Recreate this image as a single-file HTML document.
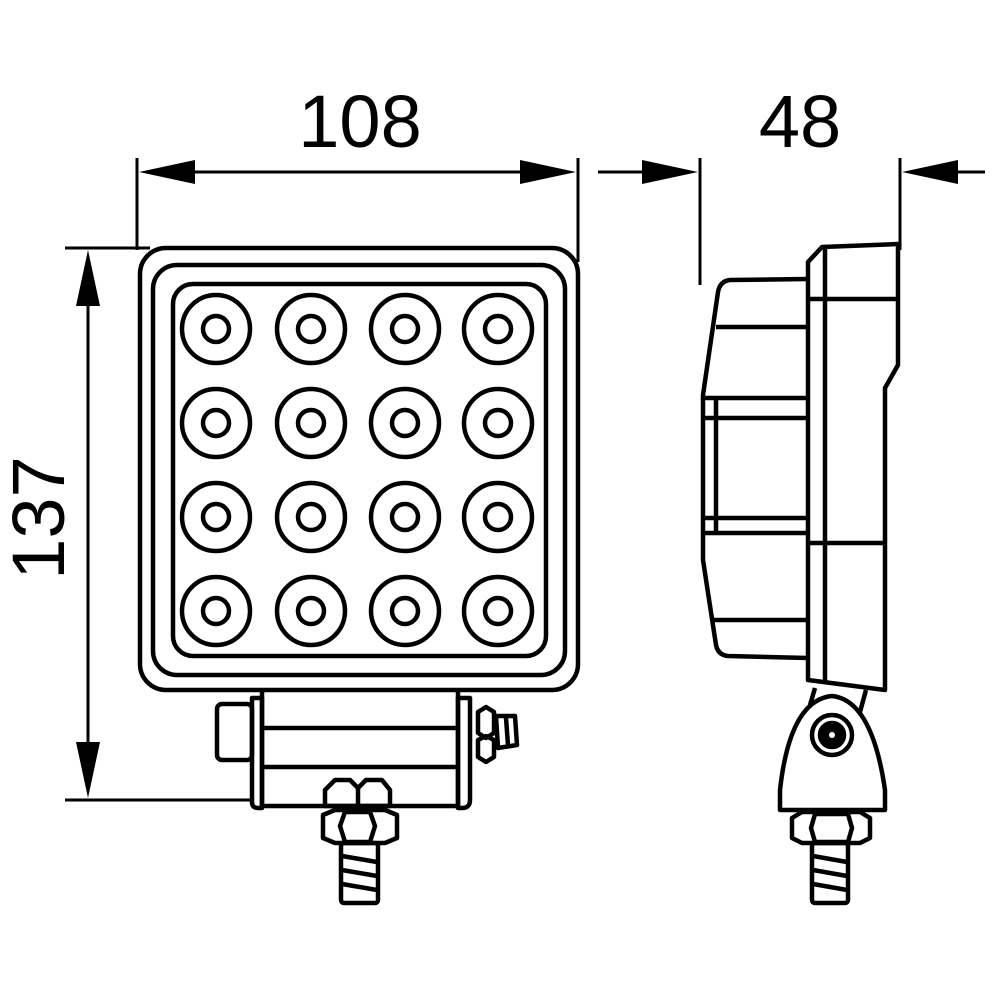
<!DOCTYPE html>
<html><head><meta charset="utf-8"><style>html,body{margin:0;padding:0;background:#fff}svg{display:block}</style></head>
<body>
<svg width="1000" height="1000" viewBox="0 0 1000 1000" xmlns="http://www.w3.org/2000/svg">
<g fill="none" stroke="#000" stroke-width="3" stroke-linejoin="round">
<line x1="137" y1="158" x2="137" y2="250"/>
<line x1="578" y1="158" x2="578" y2="262"/>
<line x1="190" y1="172" x2="525" y2="172"/>
<line x1="65" y1="248" x2="150" y2="248"/>
<line x1="65" y1="800" x2="250" y2="800"/>
<line x1="88" y1="300" x2="88" y2="750"/>
<line x1="700" y1="158" x2="700" y2="285"/>
<line x1="900" y1="158" x2="900" y2="250"/>
<line x1="598" y1="172" x2="650" y2="172"/>
<line x1="950" y1="172" x2="985" y2="172"/>
</g>
<g fill="#000">
<polygon points="139,172 195,160 195,184"/>
<polygon points="576,172 520,160 520,184"/>
<polygon points="88,250 76,306 100,306"/>
<polygon points="88,798 76,742 100,742"/>
<polygon points="698,172 642,160 642,184"/>
<polygon points="902,172 958,160 958,184"/>
</g>
<g font-family="Liberation Sans, sans-serif" font-size="74" fill="#000" text-anchor="middle">
<text x="360" y="147">108</text>
<text x="800" y="147">48</text>
<text transform="translate(64,518) rotate(-90)">137</text>
</g>
<g fill="none" stroke="#000" stroke-width="4.5" stroke-linejoin="round">
<rect x="140" y="248" width="438" height="442" rx="26"/>
<rect x="153" y="265" width="412" height="410" rx="24"/>
<rect x="173" y="284" width="373" height="372" rx="20"/>
<circle cx="216" cy="329" r="34"/><circle cx="216" cy="329" r="13"/>
<circle cx="311" cy="329" r="34"/><circle cx="311" cy="329" r="13"/>
<circle cx="405" cy="329" r="34"/><circle cx="405" cy="329" r="13"/>
<circle cx="498" cy="329" r="34"/><circle cx="498" cy="329" r="13"/>
<circle cx="216" cy="423" r="34"/><circle cx="216" cy="423" r="13"/>
<circle cx="311" cy="423" r="34"/><circle cx="311" cy="423" r="13"/>
<circle cx="405" cy="423" r="34"/><circle cx="405" cy="423" r="13"/>
<circle cx="498" cy="423" r="34"/><circle cx="498" cy="423" r="13"/>
<circle cx="216" cy="517" r="34"/><circle cx="216" cy="517" r="13"/>
<circle cx="311" cy="517" r="34"/><circle cx="311" cy="517" r="13"/>
<circle cx="405" cy="517" r="34"/><circle cx="405" cy="517" r="13"/>
<circle cx="498" cy="517" r="34"/><circle cx="498" cy="517" r="13"/>
<circle cx="216" cy="611" r="34"/><circle cx="216" cy="611" r="13"/>
<circle cx="311" cy="611" r="34"/><circle cx="311" cy="611" r="13"/>
<circle cx="405" cy="611" r="34"/><circle cx="405" cy="611" r="13"/>
<circle cx="498" cy="611" r="34"/><circle cx="498" cy="611" r="13"/>
<rect x="217" y="704" width="35" height="56" rx="5"/>
<path d="M252,698 L262,698 L262,808 L258,808 Q252,808 252,802 Z"/>
<path d="M458,698 L470,698 L470,800 Q470,808 462,808 L458,808 Z"/>
<line x1="262" y1="690" x2="262" y2="808"/>
<line x1="458" y1="690" x2="458" y2="808"/>
<line x1="262" y1="728" x2="458" y2="728"/>
<line x1="262" y1="767" x2="458" y2="767"/>
<line x1="262" y1="806" x2="458" y2="806"/>
<path d="M478,712 L486,707 L494,712 L494,733 L486,738 L478,733 Z"/>
<path d="M478,740 L486,736 L494,740 L494,757 L486,762 L478,757 Z"/>
<path d="M496,716 L515,716 L517,745 L498,748 Z"/>
<line x1="506" y1="718" x2="508" y2="745"/>
<path d="M325,790 L335,780 L350,780 L358,788 L366,780 L382,780 L390,790 L390,806 L325,806 Z"/>
<line x1="358" y1="788" x2="358" y2="806"/>
<path d="M323,815 L335,810 L385,810 L397,815 L397,838 L385,843 L335,843 L323,838 Z"/>
<path d="M345,812 L370,812 L375,826 L370,842 L345,842 L340,826 Z"/>
<rect x="341" y="843" width="37" height="60" rx="3"/>
<line x1="342" y1="856" x2="377" y2="862"/>
<line x1="342" y1="870" x2="377" y2="876"/>
<line x1="342" y1="884" x2="377" y2="890"/>
<path d="M808,262 L822,247 L898,244 L898,365 L885,388 L885,690 L808,680 Z"/>
<line x1="825" y1="248" x2="825" y2="682"/>
<line x1="808" y1="299" x2="898" y2="299"/>
<line x1="808" y1="543" x2="885" y2="543"/>
<path d="M808,279 L730,280 Q720,281 718,292 L703,395 L703,560 L716,645 Q718,655 728,656 L808,658"/>
<line x1="716" y1="327" x2="808" y2="327"/>
<line x1="703" y1="398" x2="808" y2="398"/>
<line x1="703" y1="418" x2="808" y2="418"/>
<line x1="703" y1="518" x2="808" y2="518"/>
<line x1="703" y1="533" x2="808" y2="533"/>
<line x1="716" y1="398" x2="716" y2="533"/>
<line x1="712" y1="620" x2="808" y2="620"/>
<line x1="815" y1="688" x2="810" y2="705"/>
<line x1="866" y1="690" x2="860" y2="712"/>
<path d="M780,810 L780,790 Q790,700 832,696 Q872,700 885,790 L885,810 Z"/>
<circle cx="832" cy="735" r="20"/>
<circle cx="832" cy="735" r="12" fill="#000"/>
<circle cx="832" cy="735" r="3" fill="#fff" stroke="none"/>
<path d="M792,818 L802,812 L860,812 L870,818 L870,838 L860,843 L802,843 L792,838 Z"/>
<path d="M815,814 L848,814 L852,828 L848,842 L815,842 L811,828 Z"/>
<rect x="812" y="843" width="36" height="60" rx="3"/>
<line x1="813" y1="856" x2="847" y2="862"/>
<line x1="813" y1="870" x2="847" y2="876"/>
<line x1="813" y1="884" x2="847" y2="890"/>
</g>
</svg>
</body></html>
